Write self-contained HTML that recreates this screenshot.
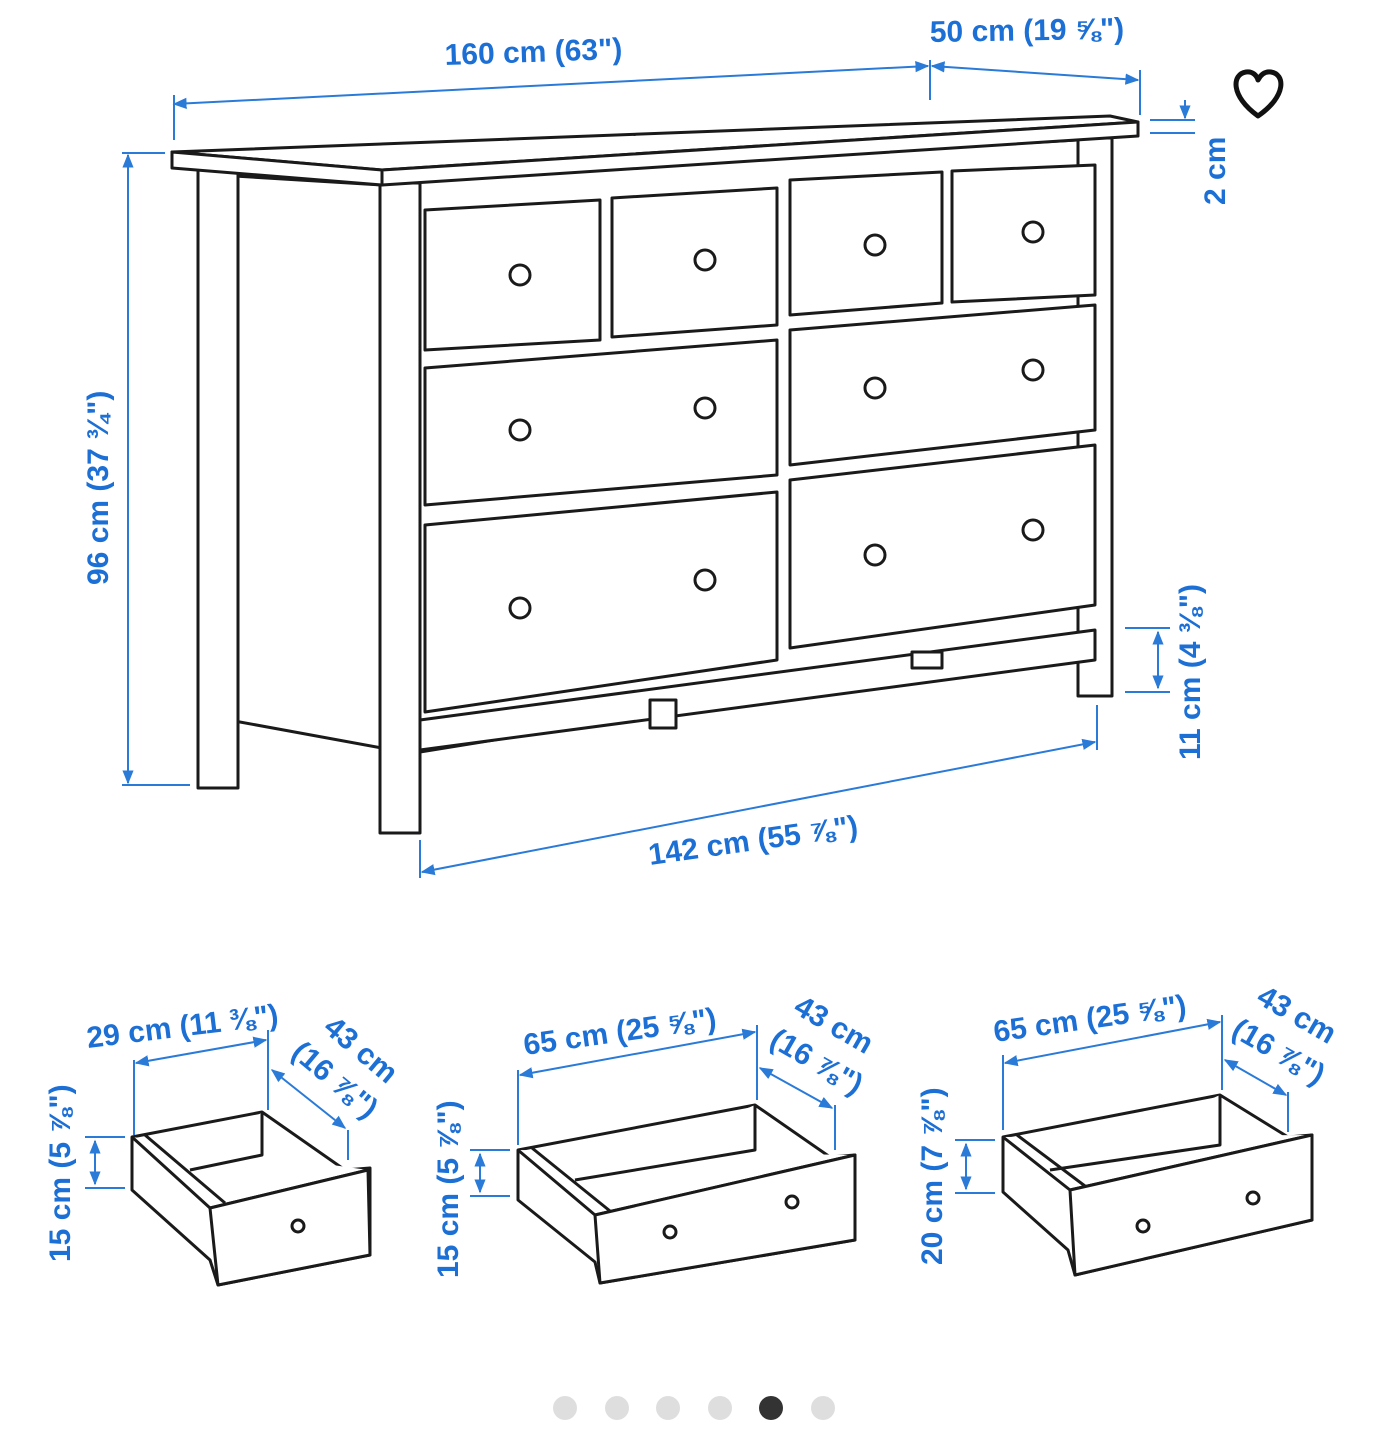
<!DOCTYPE html>
<html><head><style>
html,body{margin:0;padding:0;background:#fff;}
svg{display:block}
text{font-family:"Liberation Sans",sans-serif;font-weight:bold;fill:#1c6fd4;font-size:30px}
.d{fill:#fff;stroke:#1a1a1a;stroke-width:3;stroke-linejoin:round}
.b{stroke:#2a7ad8;stroke-width:2;fill:none}
.k{fill:#fff;stroke:#1a1a1a;stroke-width:3}
</style></head><body>
<svg width="1389" height="1440" viewBox="0 0 1389 1440" xmlns="http://www.w3.org/2000/svg">
<defs><marker id="a" viewBox="0 0 10 10" refX="9" refY="5" markerWidth="7" markerHeight="7" orient="auto-start-reverse"><path d="M0,1 L10,5 L0,9z" fill="#2a7ad8"/></marker></defs>

<!-- dresser -->
<polygon class="d" points="218,175 382,185 382,748 218,718"/>
<rect class="d" x="198" y="168" width="40" height="620"/>
<polygon class="d" points="420,178 1112,138 1112,640 420,752"/>
<rect class="d" x="1078" y="138" width="34" height="558"/>
<polygon class="d" points="420,720 1095,630 1095,660 420,750"/>
<rect class="d" x="650" y="700" width="26" height="28"/>
<rect class="d" x="912" y="652" width="30" height="16"/>
<rect class="d" x="380" y="183" width="40" height="650"/>
<polygon class="d" points="172,152 1110,116 1138,122 382,170"/>
<polygon class="d" points="172,152 382,170 382,185 172,168"/>
<polygon class="d" points="382,170 1138,122 1138,136 382,185"/>
<!-- drawers -->
<polygon class="d" points="425,210 600,200 600,340 425,350"/>
<polygon class="d" points="612,198 777,188 777,325 612,337"/>
<polygon class="d" points="790,180 942,172 942,303 790,315"/>
<polygon class="d" points="952,171 1095,165 1095,295 952,302"/>
<polygon class="d" points="425,368 777,340 777,475 425,505"/>
<polygon class="d" points="790,330 1095,305 1095,430 790,465"/>
<polygon class="d" points="425,525 777,492 777,660 425,712"/>
<polygon class="d" points="790,480 1095,445 1095,605 790,648"/>
<g class="k">
<circle cx="520" cy="275" r="10"/><circle cx="705" cy="260" r="10"/><circle cx="875" cy="245" r="10"/><circle cx="1033" cy="232" r="10"/>
<circle cx="520" cy="430" r="10"/><circle cx="705" cy="408" r="10"/><circle cx="875" cy="388" r="10"/><circle cx="1033" cy="370" r="10"/>
<circle cx="520" cy="608" r="10"/><circle cx="705" cy="580" r="10"/><circle cx="875" cy="555" r="10"/><circle cx="1033" cy="530" r="10"/>
</g>

<!-- dimension lines -->
<line class="b" x1="174" y1="104" x2="928" y2="66" marker-start="url(#a)" marker-end="url(#a)"/>
<line class="b" x1="174" y1="95" x2="174" y2="140"/>
<line class="b" x1="930" y1="60" x2="930" y2="100"/>
<line class="b" x1="932" y1="66" x2="1138" y2="80" marker-start="url(#a)" marker-end="url(#a)"/>
<line class="b" x1="1140" y1="70" x2="1140" y2="115"/>
<line class="b" x1="1150" y1="120" x2="1195" y2="120"/><line class="b" x1="1150" y1="133" x2="1195" y2="133"/>
<line class="b" x1="1185" y1="100" x2="1185" y2="118" marker-end="url(#a)"/>
<line class="b" x1="128" y1="155" x2="128" y2="783" marker-start="url(#a)" marker-end="url(#a)"/>
<line class="b" x1="122" y1="153" x2="165" y2="153"/><line class="b" x1="122" y1="785" x2="190" y2="785"/>
<line class="b" x1="1125" y1="628" x2="1170" y2="628"/><line class="b" x1="1125" y1="692" x2="1170" y2="692"/>
<line class="b" x1="1158" y1="632" x2="1158" y2="688" marker-start="url(#a)" marker-end="url(#a)"/>
<line class="b" x1="422" y1="872" x2="1095" y2="742" marker-start="url(#a)" marker-end="url(#a)"/>
<line class="b" x1="420" y1="840" x2="420" y2="878"/><line class="b" x1="1097" y1="705" x2="1097" y2="750"/>
<text x="445" y="65" transform="rotate(-2 445 65)">160 cm (63")</text>
<text x="930" y="42" transform="rotate(-1 930 42)">50 cm (19 ⅝")</text>
<text x="1225" y="205" transform="rotate(-90 1225 205)">2 cm</text>
<text x="108" y="585" transform="rotate(-90 108 585)">96 cm (37 ¾")</text>
<text x="1200" y="760" transform="rotate(-90 1200 760)">11 cm (4 ⅜")</text>
<text x="650" y="865" transform="rotate(-8 650 865)">142 cm (55 ⅞")</text>

<!-- heart -->
<path d="M1258,116 C1230,96 1232,74 1246,72 C1253,71 1257,76 1258,80 C1260,76 1264,71 1271,72 C1285,74 1287,96 1258,116Z" fill="none" stroke="#111" stroke-width="5" stroke-linejoin="round"/>

<!-- drawer 1 -->
<g>
<polygon class="d" points="132,1137 262,1112 345,1170 370,1168 370,1255 218,1285 210,1260 132,1190"/>
<polyline class="d" points="132,1137 210,1208 368,1170"/>
<polyline class="d" points="262,1112 262,1155 190,1170"/>
<polyline class="d" points="145,1135 225,1203"/>
<polygon class="d" points="210,1208 368,1170 370,1255 218,1285"/>
<circle class="k" cx="298" cy="1226" r="6"/>
<line class="b" x1="134" y1="1135" x2="134" y2="1060"/><line class="b" x1="268" y1="1110" x2="268" y2="1030"/>
<line class="b" x1="136" y1="1063" x2="266" y2="1040" marker-start="url(#a)" marker-end="url(#a)"/>
<line class="b" x1="272" y1="1070" x2="345" y2="1128" marker-start="url(#a)" marker-end="url(#a)"/>
<line class="b" x1="348" y1="1130" x2="348" y2="1160"/>
<line class="b" x1="85" y1="1137" x2="125" y2="1137"/><line class="b" x1="85" y1="1188" x2="125" y2="1188"/>
<line class="b" x1="95" y1="1141" x2="95" y2="1184" marker-start="url(#a)" marker-end="url(#a)"/>
<text x="88" y="1048" transform="rotate(-7 88 1048)">29 cm (11 ⅜")</text>
<text x="322" y="1030" transform="rotate(40 322 1030)">43 cm</text>
<text x="290" y="1055" transform="rotate(40 290 1055)">(16 ⅞")</text>
<text x="70" y="1262" transform="rotate(-90 70 1262)">15 cm (5 ⅞")</text>
</g>

<!-- drawer 2 -->
<g>
<polygon class="d" points="518,1150 755,1105 830,1157 855,1155 855,1240 600,1283 595,1262 518,1200"/>
<polyline class="d" points="518,1150 595,1215 855,1155"/>
<polyline class="d" points="755,1105 755,1150 575,1180"/>
<polyline class="d" points="532,1148 610,1211"/>
<polygon class="d" points="595,1215 855,1155 855,1240 600,1283"/>
<circle class="k" cx="670" cy="1232" r="6"/><circle class="k" cx="792" cy="1202" r="6"/>
<line class="b" x1="518" y1="1145" x2="518" y2="1070"/><line class="b" x1="757" y1="1100" x2="757" y2="1025"/>
<line class="b" x1="520" y1="1075" x2="755" y2="1032" marker-start="url(#a)" marker-end="url(#a)"/>
<line class="b" x1="760" y1="1068" x2="832" y2="1108" marker-start="url(#a)" marker-end="url(#a)"/>
<line class="b" x1="835" y1="1105" x2="835" y2="1150"/>
<line class="b" x1="470" y1="1150" x2="510" y2="1150"/><line class="b" x1="470" y1="1196" x2="510" y2="1196"/>
<line class="b" x1="480" y1="1154" x2="480" y2="1192" marker-start="url(#a)" marker-end="url(#a)"/>
<text x="525" y="1055" transform="rotate(-8 525 1055)">65 cm (25 ⅝")</text>
<text x="792" y="1012" transform="rotate(30 792 1012)">43 cm</text>
<text x="768" y="1045" transform="rotate(30 768 1045)">(16 ⅞")</text>
<text x="458" y="1278" transform="rotate(-90 458 1278)">15 cm (5 ⅞")</text>
</g>

<!-- drawer 3 -->
<g>
<polygon class="d" points="1003,1137 1220,1095 1288,1137 1312,1135 1312,1220 1075,1275 1068,1250 1003,1192"/>
<polyline class="d" points="1003,1137 1070,1190 1312,1135"/>
<polyline class="d" points="1220,1095 1220,1145 1050,1170"/>
<polyline class="d" points="1017,1135 1085,1186"/>
<polygon class="d" points="1070,1190 1312,1135 1312,1220 1075,1275"/>
<circle class="k" cx="1143" cy="1226" r="6"/><circle class="k" cx="1253" cy="1198" r="6"/>
<line class="b" x1="1003" y1="1130" x2="1003" y2="1055"/><line class="b" x1="1222" y1="1090" x2="1222" y2="1015"/>
<line class="b" x1="1005" y1="1063" x2="1220" y2="1022" marker-start="url(#a)" marker-end="url(#a)"/>
<line class="b" x1="1225" y1="1060" x2="1286" y2="1095" marker-start="url(#a)" marker-end="url(#a)"/>
<line class="b" x1="1288" y1="1092" x2="1288" y2="1132"/>
<line class="b" x1="955" y1="1140" x2="995" y2="1140"/><line class="b" x1="955" y1="1193" x2="995" y2="1193"/>
<line class="b" x1="966" y1="1144" x2="966" y2="1189" marker-start="url(#a)" marker-end="url(#a)"/>
<text x="995" y="1042" transform="rotate(-8 995 1042)">65 cm (25 ⅝")</text>
<text x="1255" y="1002" transform="rotate(30 1255 1002)">43 cm</text>
<text x="1230" y="1035" transform="rotate(30 1230 1035)">(16 ⅞")</text>
<text x="942" y="1265" transform="rotate(-90 942 1265)">20 cm (7 ⅞")</text>
</g>

<!-- dots -->
<g fill="#dedede"><circle cx="565" cy="1408" r="12"/><circle cx="617" cy="1408" r="12"/><circle cx="668" cy="1408" r="12"/><circle cx="720" cy="1408" r="12"/><circle cx="823" cy="1408" r="12"/></g>
<circle cx="771" cy="1408" r="12" fill="#333"/>
</svg>
</body></html>
